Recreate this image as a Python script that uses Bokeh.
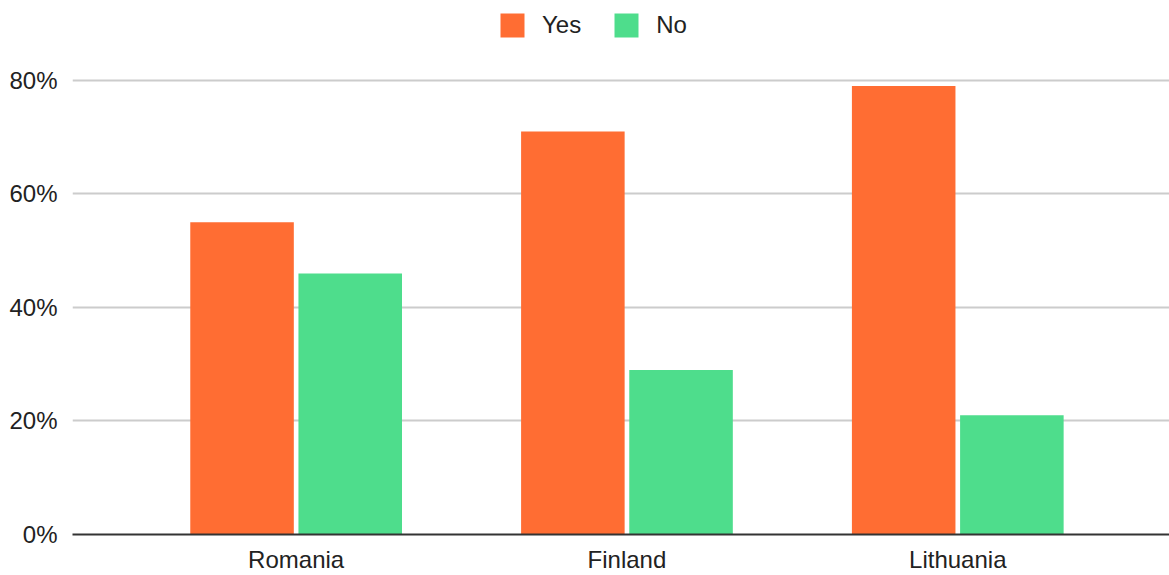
from bokeh.plotting import figure
from bokeh.models import ColumnDataSource, FixedTicker, PrintfTickFormatter, Legend, LegendItem, Range1d
from bokeh.embed import file_html
from bokeh.resources import INLINE

categories = ["Romania", "Finland", "Lithuania"]
yes_values = [55, 71, 79]
no_values = [46, 29, 21]
y_ticks = [0, 20, 40, 60, 80]

FONT = "Liberation Sans"
ORANGE = "#FF6D33"
GREEN = "#4EDD8C"

idx = list(range(len(categories)))
bar_w = 0.313
off = 0.1635

src = ColumnDataSource(dict(
    x_yes=[i - off for i in idx],
    x_no=[i + off for i in idx],
    yes=yes_values,
    no=no_values,
))

p = figure(width=1169, height=575, output_backend="svg", toolbar_location=None,
           x_range=Range1d(-0.676, 2.64), y_range=Range1d(0, 94.07),
           min_border_left=72, min_border_right=0, min_border_top=0, min_border_bottom=10)

r_yes = p.vbar(x="x_yes", top="yes", width=bar_w, source=src, fill_color=ORANGE, line_color=None)
r_no = p.vbar(x="x_no", top="no", width=bar_w, source=src, fill_color=GREEN, line_color=None)

p.outline_line_color = None
p.background_fill_color = "white"
p.border_fill_color = "white"

# x axis
p.xaxis.ticker = FixedTicker(ticks=idx)
p.xaxis.major_label_overrides = {i: c for i, c in zip(idx, categories)}
p.xaxis.axis_line_color = "#333333"
p.xaxis.axis_line_width = 2
p.xaxis.major_tick_line_color = None
p.xaxis.minor_tick_line_color = None
p.xaxis.major_label_text_font = FONT
p.xaxis.major_label_text_font_size = "24px"
p.xaxis.major_label_text_color = "#222222"
p.xaxis.major_label_standoff = 5
p.xgrid.grid_line_color = None

# y axis
p.yaxis.ticker = FixedTicker(ticks=y_ticks)
p.yaxis.formatter = PrintfTickFormatter(format="%d%%")
p.yaxis.axis_line_color = None
p.yaxis.major_tick_line_color = None
p.yaxis.minor_tick_line_color = None
p.yaxis.major_label_text_font = FONT
p.yaxis.major_label_text_font_size = "24px"
p.yaxis.major_label_text_color = "#222222"
p.yaxis.major_label_standoff = 9
p.ygrid.grid_line_color = "#CCCCCC"
p.ygrid.grid_line_width = 2

legend = Legend(items=[LegendItem(label="Yes", renderers=[r_yes]),
                       LegendItem(label="No", renderers=[r_no])],
                orientation="horizontal", location=(425, 494),
                border_line_color=None, background_fill_alpha=0,
                label_text_font=FONT, label_text_font_size="24px", label_text_color="#222222",
                glyph_width=30, glyph_height=30, spacing=30, label_standoff=15, padding=0, margin=0)
p.add_layout(legend, "center")

open("out.html", "w").write(file_html(p, INLINE))
